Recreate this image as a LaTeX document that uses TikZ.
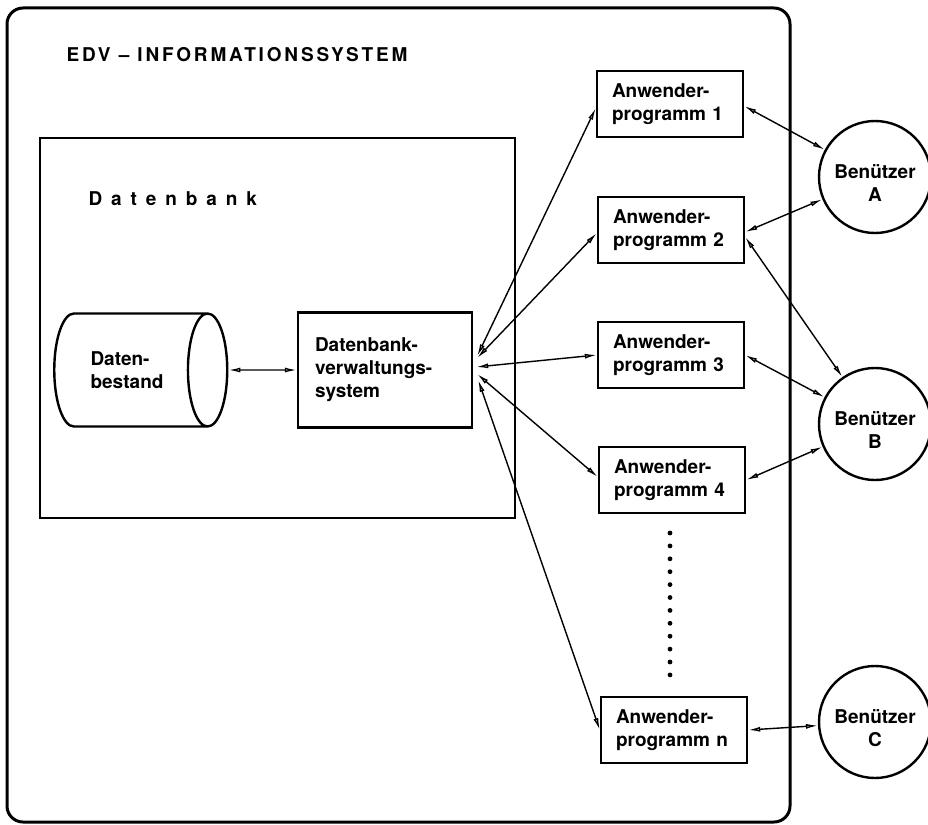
\documentclass[tikz,border=0pt]{standalone}
\usepackage{fontspec}
\setmainfont{TeX Gyre Heros}
\usetikzlibrary{arrows.meta}
\usetikzlibrary{positioning}
\usetikzlibrary{shapes.geometric}
\tikzset{>={Latex[open,length=12pt,width=5pt]}}
\tikzset{
  txt/.style={font=\bfseries\fontsize{19}{23}\selectfont},
  frame/.style={line width=3pt, rounded corners=16pt},
  dbbox/.style={line width=2.4pt},
  prog/.style={draw, txt, line width=2.4pt, text width=116pt, minimum height=66pt, inner xsep=15pt, align=left},
  user/.style={draw, circle, line width=2.4pt, minimum size=112pt, inner sep=0pt},
  userlabel/.style={txt, align=center, yshift=-6pt},
  link/.style={<->, line width=1.4pt},
}

\begin{document}
\begin{tikzpicture}[x=1pt,y=-1pt]
        \useasboundingbox (0,0) rectangle (928,824);
        \draw[frame] (7,8) rectangle (790,822);
        \node[txt, anchor=base west] (edv) at (63,62) {\addfontfeature{LetterSpace=15}EDV -- INFORMATIONSSYSTEM};

        \draw[dbbox] (40,138) rectangle (515,518);
        \node[txt, anchor=base west] (dbname) at (85,205) {\addfontfeature{LetterSpace=47}Datenbank};

        \node[draw, txt, cylinder, line width=2.4pt, aspect=0.9, minimum width=113pt, minimum height=173pt, align=left] (bestand) at (127,370) {Daten-\\bestand};
        \node[draw, txt, line width=2.4pt, text width=140pt, minimum height=115pt, inner xsep=17pt, align=left] (dbvs) at (385,370) {Datenbank-\\verwaltungs-\\system};

        \node[prog] (p1) at (670,104) {Anwender-\\programm 1};
        \node[prog] (p2) at (671,230) {Anwender-\\programm 2};
        \node[prog] (p3) at (671,355) {Anwender-\\programm 3};
        \node[prog] (p4) at (672,480) {Anwender-\\programm 4};
        \node[prog] (pn) at (674,730) {Anwender-\\programm n};

        \node[user, label={[userlabel]center:Benützer\\A}] (ua) at (875,177) {};
        \node[user, label={[userlabel]center:Benützer\\B}] (ub) at (875,424) {};
        \node[user, label={[userlabel]center:Benützer\\C}] (uc) at (875,722) {};

        \foreach \k in {0,...,11}
            \fill (670,533+\k*12.9) circle (2.4pt);

        \draw[link] (bestand.east) -- (dbvs.west);
        \draw[link] ([xshift=4pt,yshift=14pt]dbvs.east) -- ([yshift=-4pt]p1.west);
        \draw[link] ([xshift=4pt,yshift=12pt]dbvs.east) -- ([yshift=-3pt]p2.west);
        \draw[link] ([xshift=3pt,yshift=3pt]dbvs.east) -- (p3.west);
        \draw[link] ([xshift=4pt,yshift=-4pt]dbvs.east) -- ([yshift=3pt]p4.west);
        \draw[link] ([xshift=5pt,yshift=-10pt]dbvs.east) -- (pn.west);

        \draw[link] ([yshift=-2pt]p1.east) -- (ua);
        \draw[link] ([yshift=-2pt]p2.east) -- (ua);
        \draw[link] ([yshift=-7pt]p2.east) -- (ub);
        \draw[link] (p3.east) -- (ub);
        \draw[link] (p4.east) -- (ub);
        \draw[link] (pn.east) -- (uc);
    \end{tikzpicture}
\end{document}
